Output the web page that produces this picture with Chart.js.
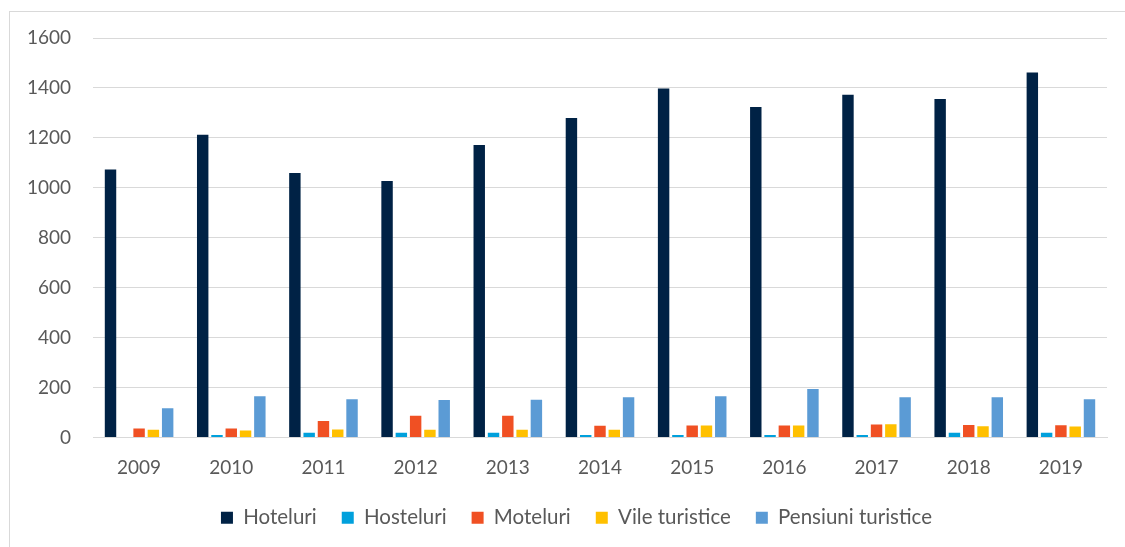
<!DOCTYPE html>
<html>
<head>
<meta charset="utf-8">
<script src="https://cdn.jsdelivr.net/npm/chart.js@4.4.1/dist/chart.umd.min.js"></script>
<style>
    html, body { margin: 0; padding: 0; background: #fff; overflow: hidden; }
    #frame {
        position: absolute;
        left: 9px;
        top: 11px;
        width: 1133px;
        height: 600px;
        border-left: 1px solid #d9d9d9;
        border-top: 1px solid #d9d9d9;
    }
    #wrap { position: relative; width: 1133px; height: 526px; }
</style>
</head>
<body>
<div id="frame">
    <div id="wrap"><canvas id="unitatiChart"></canvas></div>
</div>
<script>
const ani = ['2009', '2010', '2011', '2012', '2013', '2014', '2015', '2016', '2017', '2018', '2019'];
const hoteluri = [1073, 1213, 1059, 1027, 1171, 1280, 1398, 1324, 1373, 1356, 1462];
const hosteluri = [0, 10, 19, 19, 19, 10, 10, 10, 10, 19, 19];
const moteluri = [36, 36, 66, 87, 87, 47, 48, 48, 52, 50, 49];
const vile = [31, 28, 32, 31, 31, 31, 48, 48, 53, 45, 44];
const pensiuni = [117, 165, 153, 150, 151, 161, 165, 194, 161, 161, 153];

const fontFamily = 'Lato, "Open Sans", sans-serif';
const textColor = '#595959';
const gridColor = '#d9d9d9';

function serie(label, data, color) {
    return {
        label: label,
        data: data,
        backgroundColor: color,
        borderWidth: 0,
        barPercentage: 0.8,
        categoryPercentage: 0.775
    };
}

const ctx = document.getElementById('unitatiChart').getContext('2d');
new Chart(ctx, {
    type: 'bar',
    data: {
        labels: ani,
        datasets: [
            serie('Hoteluri', hoteluri, '#002245'),
            serie('Hosteluri', hosteluri, '#00a0dc'),
            serie('Moteluri', moteluri, '#f05023'),
            serie('Vile turistice', vile, '#ffc000'),
            serie('Pensiuni turistice', pensiuni, '#5b9bd5')
        ]
    },
    options: {
        responsive: true,
        maintainAspectRatio: false,
        animation: false,
        layout: {
            padding: { top: 26, right: 0, bottom: 0, left: 0 }
        },
        plugins: {
            tooltip: { enabled: false },
            legend: {
                position: 'bottom',
                labels: {
                    boxWidth: 12,
                    boxHeight: 12,
                    padding: 25,
                    color: textColor,
                    font: { family: fontFamily, size: 20.5 }
                }
            }
        },
        scales: {
            x: {
                grid: { display: false, drawTicks: false },
                border: { display: true, color: gridColor, width: 1 },
                ticks: {
                    color: textColor,
                    padding: 19,
                    font: { family: fontFamily, size: 19 }
                },
                afterFit: function (scale) { scale.height = 45; }
            },
            y: {
                min: 0,
                max: 1600,
                grid: { color: gridColor, lineWidth: 1, drawTicks: false },
                border: { display: false },
                ticks: {
                    stepSize: 200,
                    color: textColor,
                    padding: 22,
                    font: { family: fontFamily, size: 19 },
                    callback: function (value) { return String(value); }
                },
                afterFit: function (scale) {
                    // la padding-ul de sus conteaza doar layout.padding
                    scale.width = 83;
                    scale.paddingTop = 0;
                    scale.paddingBottom = 0;
                }
            },
            // spatiu gol in dreapta, legenda ramane centrata pe tot canvas-ul
            spatiuDreapta: {
                position: 'right',
                grid: { display: false, drawTicks: false },
                border: { display: false },
                ticks: { display: false },
                afterFit: function (scale) {
                    scale.width = 36;
                    scale.paddingTop = 0;
                    scale.paddingBottom = 0;
                }
            }
        }
    }
});
</script>
</body>
</html>
